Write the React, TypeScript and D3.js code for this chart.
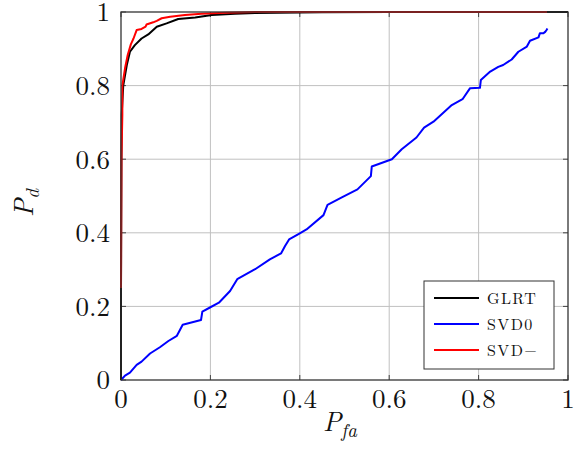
import React from "react";
import * as d3 from "d3";

const xTicks = [0, 0.2, 0.4, 0.6, 0.8, 1];
const yTicks = [0, 0.2, 0.4, 0.6, 0.8, 1];
const tickLabels = ["0", "0.2", "0.4", "0.6", "0.8", "1"];

const glrtX = [0, 0, 0.001, 0.0015, 0.005, 0.013, 0.02, 0.031, 0.046, 0.061, 0.08, 0.102, 0.128, 0.166, 0.203, 0.255, 0.3, 0.45, 0.6, 1];
const glrtY = [0, 0.25, 0.6, 0.72, 0.8, 0.856, 0.892, 0.91, 0.928, 0.939, 0.96, 0.969, 0.981, 0.985, 0.992, 0.995, 0.997, 0.999, 1, 1];

const svd0X = [0, 0.009, 0.02, 0.035, 0.046, 0.065, 0.087, 0.106, 0.125, 0.138, 0.179, 0.182, 0.199, 0.219, 0.244, 0.26, 0.3, 0.333, 0.358, 0.367, 0.376, 0.399, 0.415, 0.453, 0.462, 0.494, 0.529, 0.559, 0.561, 0.606, 0.628, 0.661, 0.678, 0.699, 0.74, 0.764, 0.781, 0.803, 0.805, 0.826, 0.844, 0.855, 0.874, 0.889, 0.908, 0.915, 0.934, 0.937, 0.945, 0.949, 0.952, 0.954];
const svd0Y = [0, 0.012, 0.02, 0.041, 0.05, 0.072, 0.089, 0.106, 0.12, 0.15, 0.163, 0.186, 0.197, 0.21, 0.242, 0.274, 0.301, 0.328, 0.344, 0.364, 0.382, 0.398, 0.409, 0.448, 0.476, 0.496, 0.518, 0.554, 0.58, 0.6, 0.627, 0.659, 0.686, 0.702, 0.747, 0.763, 0.793, 0.794, 0.815, 0.838, 0.851, 0.856, 0.871, 0.892, 0.906, 0.922, 0.931, 0.942, 0.942, 0.946, 0.951, 0.955];

const svdmX = [0, 0.001, 0.003, 0.003, 0.009, 0.015, 0.022, 0.028, 0.035, 0.046, 0.055, 0.057, 0.072, 0.08, 0.091, 0.11, 0.143, 0.18, 0.233, 0.3, 0.953];
const svdmY = [0.25, 0.6, 0.72, 0.8, 0.847, 0.883, 0.912, 0.928, 0.951, 0.954, 0.96, 0.966, 0.972, 0.976, 0.983, 0.987, 0.992, 0.995, 0.998, 1, 1];

const seriesNames = ["GLRT", "SVD0", "SVD\u2212"];
const seriesColors = ["#000000", "#0000ff", "#ff0000"];

const W = 583, H = 466;
const L = 121, R = 568, T = 12, B = 380;
const FONT = "'Latin Modern Roman', 'DejaVu Serif', 'Liberation Serif', serif";

export default function App() {
  const x = d3.scaleLinear().domain([0, 1]).range([L, R]);
  const y = d3.scaleLinear().domain([0, 1]).range([B, T]);
  const line = d3.line<[number, number]>().x(d => x(d[0])).y(d => y(d[1]));
  const series = [
    glrtX.map((v, i) => [v, glrtY[i]] as [number, number]),
    svd0X.map((v, i) => [v, svd0Y[i]] as [number, number]),
    svdmX.map((v, i) => [v, svdmY[i]] as [number, number]),
  ];
  const drawOrder = [1, 0, 2];
  return (
    <svg width={W} height={H} style={{ position: "absolute", left: 0, top: 0 }} fontFamily={FONT}>
      <rect x={0} y={0} width={W} height={H} fill="#fff" />
      {xTicks.slice(1, -1).map(t => (
        <line key={"gx" + t} x1={x(t)} x2={x(t)} y1={T} y2={B} stroke="#c0c0c0" strokeWidth={1} />
      ))}
      {yTicks.slice(1, -1).map(t => (
        <line key={"gy" + t} x1={L} x2={R} y1={y(t)} y2={y(t)} stroke="#c0c0c0" strokeWidth={1} />
      ))}
      {xTicks.map(t => (
        <g key={"tx" + t}>
          <line x1={x(t)} x2={x(t)} y1={B} y2={B - 5} stroke="#444" strokeWidth={1} />
          <line x1={x(t)} x2={x(t)} y1={T} y2={T + 5} stroke="#444" strokeWidth={1} />
        </g>
      ))}
      {yTicks.map(t => (
        <g key={"ty" + t}>
          <line x1={L} x2={L + 5} y1={y(t)} y2={y(t)} stroke="#444" strokeWidth={1} />
          <line x1={R} x2={R - 5} y1={y(t)} y2={y(t)} stroke="#444" strokeWidth={1} />
        </g>
      ))}
      {drawOrder.map(i => (
        <path key={"s" + i} d={line(series[i]) || ""} fill="none" stroke={seriesColors[i]} strokeWidth={2} strokeLinejoin="round" />
      ))}
      <rect x={L} y={T} width={R - L} height={B - T} fill="none" stroke="#333" strokeWidth={1.3} />
      {xTicks.map((t, i) => (
        <text key={"lx" + t} x={x(t)} y={408} textAnchor="middle" fontSize={27} fill="#111">{tickLabels[i]}</text>
      ))}
      {yTicks.map((t, i) => (
        <text key={"ly" + t} x={110} y={y(t)} dy="0.35em" textAnchor="end" fontSize={27} fill="#111">{tickLabels[i]}</text>
      ))}
      <text x={323} y={431} fontSize={27} fill="#111" fontStyle="italic">
        P<tspan fontSize={19} dy={6}>fa</tspan>
      </text>
      <g transform="translate(33,217) rotate(-90)">
        <text x={0} y={0} fontSize={27} fill="#111" fontStyle="italic">
          P<tspan fontSize={19} dy={6}>d</tspan>
        </text>
      </g>
      <rect x={424} y={281} width={130} height={88} fill="#fff" stroke="#333" strokeWidth={1} />
      {seriesNames.map((n, i) => (
        <g key={"lg" + i}>
          <line x1={434} x2={479} y1={298 + i * 26} y2={298 + i * 26} stroke={seriesColors[i]} strokeWidth={2} />
          <text x={487} y={298 + i * 26} dy="0.35em" fontSize={16} letterSpacing={1.4} fill="#111">{n}</text>
        </g>
      ))}
    </svg>
  );
}
